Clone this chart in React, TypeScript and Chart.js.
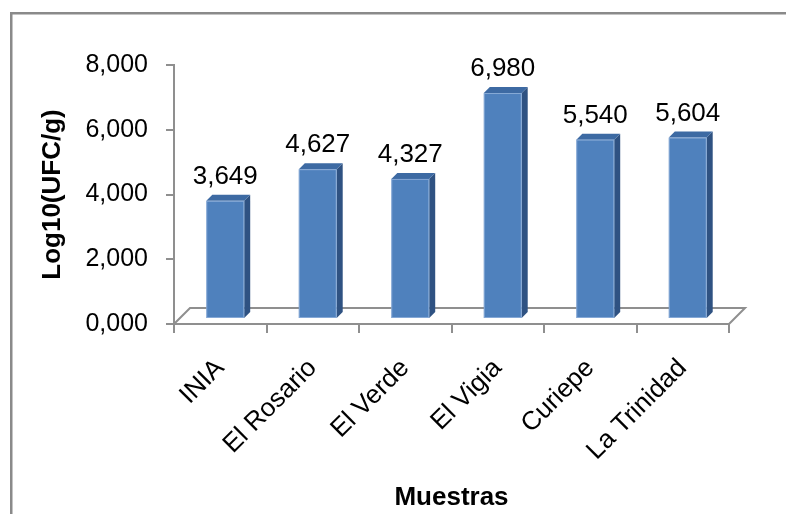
import React, { useEffect, useRef } from "react";
import { Chart, registerables } from "chart.js";

Chart.register(...registerables);

const categories = ["INIA", "El Rosario", "El Verde", "El Vigia", "Curiepe", "La Trinidad"];
const values = [3.649, 4.627, 4.327, 6.98, 5.54, 5.604];
const yMin = 0;
const yMax = 8;
const yStep = 2;
const yTitle = "Log10(UFC/g)";
const xTitle = "Muestras";

const fmt = (v: number) => v.toFixed(3).replace(".", ",");

const AXIS_GRAY = "#8f8f8f";
const FRONT = "#4f81bd";
const SIDE = "#2f5282";
const TOP = "#3d6aa3";
// 3D geometry
const FLOOR_DEPTH = 16;
const BAR_OFF = 5;
const BAR_DEPTH = 6;

const framePlugin = {
  id: "frame",
  beforeDraw(chart: any) {
    const ctx = chart.ctx;
    ctx.save();
    ctx.fillStyle = "#ffffff";
    ctx.fillRect(0, 0, chart.width, chart.height);
    ctx.strokeStyle = "#8a8a8a";
    ctx.lineWidth = 2.5;
    ctx.strokeRect(11.25, 13.25, 2000, 2000);
    ctx.restore();
  },
};

const floorPlugin = {
  id: "floor3d",
  beforeDatasetsDraw(chart: any) {
    const { ctx, chartArea } = chart;
    const l = chartArea.left;
    const r = chartArea.right;
    const b = chartArea.bottom;
    ctx.save();
    ctx.strokeStyle = AXIS_GRAY;
    ctx.lineWidth = 2;
    ctx.beginPath();
    ctx.moveTo(l, b);
    ctx.lineTo(l + FLOOR_DEPTH, b - FLOOR_DEPTH);
    ctx.lineTo(r + FLOOR_DEPTH, b - FLOOR_DEPTH);
    ctx.lineTo(r, b);
    ctx.stroke();
    ctx.restore();
  },
};

const bars3dPlugin = {
  id: "bars3d",
  afterDatasetsDraw(chart: any) {
    const ctx = chart.ctx;
    const meta = chart.getDatasetMeta(0);
    ctx.save();
    meta.data.forEach((el: any, i: number) => {
      const p = el.getProps(["x", "y", "base", "width"], true);
      const x0 = p.x - p.width / 2 + BAR_OFF;
      const x1 = p.x + p.width / 2 + BAR_OFF;
      const yt = p.y - BAR_OFF;
      const yb = p.base - BAR_OFF;
      const d = BAR_DEPTH;
      // side face
      ctx.fillStyle = SIDE;
      ctx.beginPath();
      ctx.moveTo(x1, yt);
      ctx.lineTo(x1 + d, yt - d);
      ctx.lineTo(x1 + d, yb - d);
      ctx.lineTo(x1, yb);
      ctx.closePath();
      ctx.fill();
      // top face
      ctx.fillStyle = TOP;
      ctx.beginPath();
      ctx.moveTo(x0, yt);
      ctx.lineTo(x0 + d, yt - d);
      ctx.lineTo(x1 + d, yt - d);
      ctx.lineTo(x1, yt);
      ctx.closePath();
      ctx.fill();
      // front face
      ctx.fillStyle = FRONT;
      ctx.fillRect(x0, yt, x1 - x0, yb - yt);
      ctx.strokeStyle = "rgba(170,195,230,0.6)";
      ctx.lineWidth = 1;
      ctx.strokeRect(x0 + 0.5, yt + 0.5, x1 - x0 - 1, yb - yt - 1);
      // label
      ctx.fillStyle = "#000000";
      ctx.font = "26px 'Liberation Sans', Arial, sans-serif";
      ctx.textAlign = "center";
      ctx.textBaseline = "alphabetic";
      ctx.fillText(fmt(values[i]), (x0 + x1) / 2, yt - 17);
    });
    ctx.restore();
  },
};

export default function App() {
  const ref = useRef<HTMLCanvasElement | null>(null);
  useEffect(() => {
    if (!ref.current) return;
    const chart = new Chart(ref.current, {
      type: "bar",
      data: {
        labels: categories,
        datasets: [
          {
            data: values,
            backgroundColor: "rgba(0,0,0,0)",
            borderWidth: 0,
            barPercentage: 0.41,
            categoryPercentage: 1,
          },
        ],
      },
      options: {
        responsive: false,
        animation: false,
        devicePixelRatio: 1,
        layout: { padding: { left: 33, right: 57, top: 65, bottom: 0 } },
        plugins: {
          legend: { display: false },
          tooltip: { enabled: false },
        },
        scales: {
          x: {
            grid: {
              drawOnChartArea: false,
              drawTicks: true,
              tickLength: 9,
              color: AXIS_GRAY,
              lineWidth: 2,
            },
            border: { display: true, color: AXIS_GRAY, width: 2 },
            ticks: {
              color: "#000000",
              font: { family: "'Liberation Sans', Arial, sans-serif", size: 26 },
              minRotation: 45,
              maxRotation: 45,
              autoSkip: false,
              padding: 20,
            },
            title: {
              display: true,
              text: xTitle,
              color: "#000000",
              font: { family: "'Liberation Sans', Arial, sans-serif", size: 26, weight: "bold", lineHeight: 1.2 },
              padding: { top: 4, bottom: 1 },
            },
            afterFit(scale: any) {
              scale.height = 190;
            },
          },
          y: {
            min: yMin,
            max: yMax,
            grid: {
              drawOnChartArea: false,
              drawTicks: true,
              tickLength: 8,
              color: AXIS_GRAY,
              lineWidth: 2,
            },
            border: { display: true, color: AXIS_GRAY, width: 2 },
            ticks: {
              stepSize: yStep,
              color: "#000000",
              font: { family: "'Liberation Sans', Arial, sans-serif", size: 25 },
              padding: 18,
              callback: (v: any) => fmt(Number(v)),
            },
            title: {
              display: true,
              text: yTitle,
              color: "#000000",
              font: { family: "'Liberation Sans', Arial, sans-serif", size: 26, weight: "bold", lineHeight: 1.2 },
              padding: { top: 4, bottom: 4 },
            },
            afterFit(scale: any) {
              scale.width = 141;
            },
          },
        },
      },
      plugins: [framePlugin, floorPlugin, bars3dPlugin],
    });
    return () => chart.destroy();
  }, []);
  return (
    <div style={{ position: "fixed", left: 0, top: 0, width: 786, height: 514, overflow: "hidden" }}>
      <canvas ref={ref} width={786} height={514} style={{ display: "block" }} />
    </div>
  );
}
